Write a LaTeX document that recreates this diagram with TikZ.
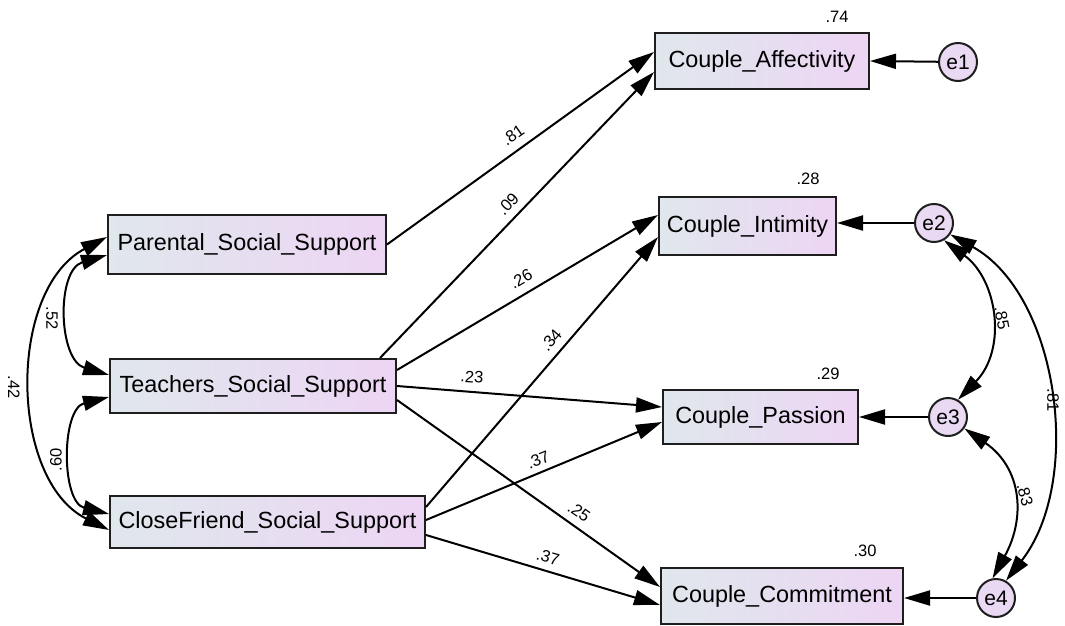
\documentclass[tikz,border=0pt]{standalone}
\usepackage{fontspec}
\setmainfont{Liberation Sans}
\usetikzlibrary{arrows.meta}
\definecolor{boxL}{RGB}{224,231,237}
\definecolor{boxR}{RGB}{237,213,244}
\definecolor{circ}{RGB}{233,217,242}
\definecolor{edge}{RGB}{30,30,30}
\tikzset{
  var/.style={draw=edge, line width=2pt, left color=boxL, right color=boxR, inner sep=0pt,
    font=\fontsize{23.4}{26}\selectfont},
  err/.style={draw=edge, line width=2pt, fill=circ, circle, minimum size=38pt, inner sep=0pt,
    font=\fontsize{21}{24}\selectfont},
  path/.style={line width=2pt, -{Triangle[length=26pt,width=15pt]}},
  cov/.style={line width=2pt, {Triangle[length=26pt,width=15pt]}-{Triangle[length=26pt,width=15pt]}},
  lab/.style={font=\fontsize{16.5}{18}\selectfont, inner sep=0pt},
}
\begin{document}
\begin{tikzpicture}[x=1pt,y=-1pt]
\useasboundingbox (0,0) rectangle (1065,626);
% exogenous
\node[var, minimum width=278pt, minimum height=59pt] (par) at (247,244.5) {Parental\_Social\_Support};
\node[var, minimum width=286pt, minimum height=54pt] (tea) at (253,386) {Teachers\_Social\_Support};
\node[var, minimum width=315pt, minimum height=52pt] (clo) at (267.5,522) {CloseFriend\_Social\_Support};
% endogenous
\node[var, minimum width=214pt, minimum height=56pt] (aff) at (762,61) {Couple\_Affectivity};
\node[var, minimum width=177pt, minimum height=58pt] (int) at (747.5,226) {Couple\_Intimity};
\node[var, minimum width=195pt, minimum height=54pt] (pas) at (760.5,417) {Couple\_Passion};
\node[var, minimum width=242pt, minimum height=56pt] (com) at (782,596) {Couple\_Commitment};
% errors
\node[err] (e1) at (958,62) {e1};
\node[err] (e2) at (934,223) {e2};
\node[err] (e3) at (948,417) {e3};
\node[err] (e4) at (996,598) {e4};
% R-squared
\node[lab] (r1) at (837,17) {.74};
\node[lab] (r2) at (808,179) {.28};
\node[lab] (r3) at (828,374) {.29};
\node[lab] (r4) at (865,551) {.30};
% error paths
\draw[path] (e1) -- (aff.east);
\draw[path] (e2) -- ([yshift=3pt]int.east);
\draw[path] (e3) -- (pas.east);
\draw[path] (e4) -- ([yshift=-2pt]com.east);
% regression paths
\draw[path] (par.east) -- ([yshift=9pt]aff.west);
\draw[path] ([xshift=127pt]tea.north) -- ([yshift=-11pt]aff.west);
\draw[path] ([yshift=16pt]tea.east) -- ([yshift=11pt]int.west);
\draw[path] ([yshift=15pt]clo.east) -- ([yshift=-11pt]int.west);
\draw[path] (tea.east) -- ([yshift=10pt]pas.west);
\draw[path] ([yshift=2pt]clo.east) -- ([yshift=-5pt]pas.west);
\draw[path] ([yshift=-14pt]tea.east) -- ([yshift=9pt]com.west);
\draw[path] ([yshift=-13pt]clo.east) -- ([yshift=-9pt]com.west);
% path labels
\node[lab, rotate=35] (l1) at (513,135) {.81};
\node[lab, rotate=46] (l2) at (508,204) {.09};
\node[lab, rotate=30] (l3) at (521,279) {.26};
\node[lab, rotate=49] (l4) at (551,340) {.34};
\node[lab, rotate=-4] (l5) at (472,377) {.23};
\node[lab, rotate=22] (l6) at (538,460) {.37};
\node[lab, rotate=-35] (l7) at (579,512) {.25};
\node[lab, rotate=-16] (l8) at (548,557) {.37};
% covariances left
\draw[cov] ([yshift=-10.5pt]par.west) .. controls +(-51,15) and +(-51,-15) .. ([yshift=11pt]tea.west);
\draw[cov] ([yshift=7.5pt]par.west) .. controls +(-100,53) and +(-100,-50) .. ([yshift=-8pt]clo.west);
\draw[cov] ([yshift=-11pt]tea.west) .. controls +(-48,12) and +(-48,-12) .. ([yshift=8pt]clo.west);
\node[lab, rotate=-90] (c1) at (52,318) {.52};
\node[lab, rotate=-90] (c2) at (14,387) {.42};
\node[lab, rotate=90] (c3) at (56,460) {.60};
% covariances right
\draw[cov] (e2.-60) .. controls +(54,40) and +(49,-50) .. (e3.60);
\draw[cov] (e3.-35) .. controls +(58,40) and +(33,-60) .. (e4.100);
\draw[cov] (e2.-35) .. controls +(108,60) and +(78,-100) .. (e4.60);
\node[lab, rotate=-80] (c4) at (1002,318) {.85};
\node[lab, rotate=-75] (c5) at (1025,495) {.83};
\node[lab, rotate=-90] (c6) at (1053,400) {.81};
\end{tikzpicture}
\end{document}
